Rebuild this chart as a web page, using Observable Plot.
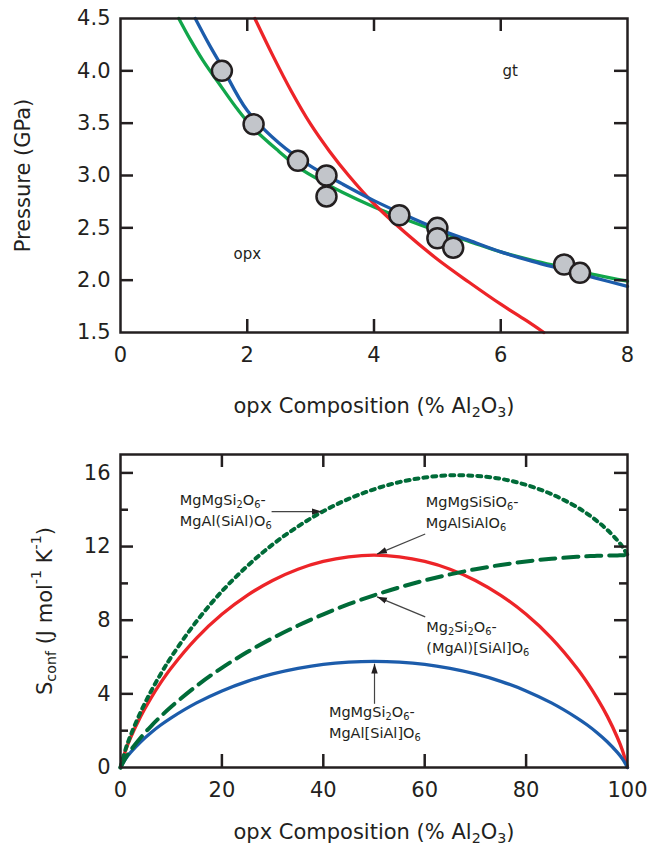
<!DOCTYPE html>
<html><head><meta charset="utf-8">
<script src="https://cdn.jsdelivr.net/npm/d3@7"></script>
<script src="https://cdn.jsdelivr.net/npm/@observablehq/plot@0.6"></script>
<style>
body{margin:0;background:#fff;}
#chart{width:658px;}
#chart svg{display:block;}
</style></head><body><div id="chart"></div>
<script>
// ---------- Top panel data ----------
const topXTicks = [0, 2, 4, 6, 8];
const topYTicks = [1.5, 2.0, 2.5, 3.0, 3.5, 4.0, 4.5];
const expAl = [1.6, 2.1, 2.8, 3.25, 3.25, 4.4, 5.0, 5.0, 5.25, 7.0, 7.25];
const expP  = [4.0, 3.49, 3.14, 3.0, 2.8, 2.62, 2.5, 2.4, 2.31, 2.15, 2.07];
const greenAl = [0.92, 1.1, 1.3, 1.6, 1.85, 2.1, 2.5, 2.8, 3.25, 3.5, 4.0, 4.5, 5.0, 5.5, 6.0, 6.5, 7.0, 7.5, 8.0];
const greenP  = [4.5, 4.3, 4.1, 3.84, 3.63, 3.45, 3.23, 3.08, 2.92, 2.84, 2.7, 2.58, 2.47, 2.37, 2.27, 2.19, 2.12, 2.05, 1.99];
const blueAl = [1.18, 1.4, 1.6, 2.0, 2.5, 3.0, 3.5, 4.0, 4.5, 5.0, 5.5, 6.0, 6.5, 7.0, 7.5, 8.0];
const blueP  = [4.5, 4.25, 4.04, 3.62, 3.31, 3.09, 2.92, 2.76, 2.62, 2.49, 2.38, 2.27, 2.18, 2.1, 2.02, 1.94];
const redAl = [2.12, 2.4, 2.7, 3.0, 3.3, 3.6, 4.0, 4.5, 5.0, 5.5, 6.0, 6.4, 6.68];
const redP  = [4.5, 4.15, 3.8, 3.49, 3.23, 3.0, 2.73, 2.45, 2.2, 1.98, 1.77, 1.615, 1.5];
const phaseText = ["gt", "opx"];
const phaseAl = [6.15, 2.0];
const phaseP = [4.0, 2.25];

// ---------- Bottom panel data ----------
const botXTicks = [0, 20, 40, 60, 80, 100];
const botYTicks = [0, 4, 8, 12, 16];
const botYMinor = [2, 6, 10, 14];
const compX = [0, 1, 2, 4, 6, 8, 10, 15, 20, 25, 30, 35, 40, 45, 50, 55, 60, 65, 70, 75, 80, 85, 90, 92, 94, 96, 98, 99, 100];
const sBlue = [0, 0.47, 0.82, 1.40, 1.89, 2.32, 2.70, 3.51, 4.16, 4.68, 5.08, 5.38, 5.60, 5.72, 5.76, 5.72, 5.60, 5.38, 5.08, 4.68, 4.16, 3.51, 2.70, 2.32, 1.89, 1.40, 0.82, 0.47, 0];
const sRed  = [0, 0.93, 1.63, 2.79, 3.77, 4.64, 5.41, 7.03, 8.32, 9.35, 10.16, 10.77, 11.19, 11.44, 11.53, 11.44, 11.19, 10.77, 10.16, 9.35, 8.32, 7.03, 5.41, 4.64, 3.77, 2.79, 1.63, 0.93, 0];
const sDash = [0, 0.52, 0.93, 1.63, 2.24, 2.79, 3.30, 4.43, 5.41, 6.27, 7.03, 7.71, 8.32, 8.87, 9.35, 9.78, 10.16, 10.49, 10.77, 11.00, 11.19, 11.34, 11.44, 11.47, 11.50, 11.51, 11.52, 11.53, 11.53];
const sDot  = [0, 0.99, 1.75, 3.03, 4.13, 5.11, 6.00, 7.94, 9.57, 10.94, 12.11, 13.09, 13.92, 14.59, 15.11, 15.50, 15.75, 15.87, 15.84, 15.68, 15.35, 14.85, 14.15, 13.79, 13.38, 12.91, 12.34, 11.99, 11.53];
const annoLine1 = ["MgMgSi_2O_6-", "MgMgSiSiO_6-", "Mg_2Si_2O_6-", "MgMgSi_2O_6-"];
const annoLine2 = ["MgAl(SiAl)O_6", "MgAlSiAlO_6", "(MgAl)[SiAl]O_6", "MgAl[SiAl]O_6"];
const annoX = [11.7, 60.2, 60.3, 41.1];
const annoY = [14.5, 14.41, 7.62, 3.01];
const arrowX1 = [29.8, 60.1, 60.1, 50.1];
const arrowY1 = [13.9, 12.68, 8.18, 3.46];
const arrowX2 = [39.7, 50.6, 50.6, 50.1];
const arrowY2 = [13.9, 11.59, 9.27, 5.64];

// ---------- styling ----------
const INK = "#231f20";
const GREEN = "#11a64b", BLUE = "#1c5cab", RED = "#ed2428", DKGREEN = "#006b38";
const FONT = "'DejaVu Sans', Lato, sans-serif";
const W = 658, ML = 120, MR = 31;
const FW = W - ML - MR;
const TL = 13, TLm = 8;
const LW = 3.3;

const rows = (xs, ys) => xs.map((x, i) => ({x, y: ys[i]}));

function filledArrow(color, context) {
  const m = d3.create("svg:marker")
    .attr("viewBox", "-6 -5 12 10")
    .attr("markerWidth", 11).attr("markerHeight", 9)
    .attr("markerUnits", "userSpaceOnUse")
    .attr("refX", 5).attr("refY", 0)
    .attr("orient", "auto");
  m.append("path").attr("d", "M-6,-3.6L5,0L-6,3.6Z").attr("fill", INK).attr("stroke", "none");
  return m.node();
}

function richify(svg) {
  svg.querySelectorAll("text").forEach(t => {
    const ts = t.querySelectorAll("tspan");
    const leaves = ts.length ? [...ts] : [t];
    for (const el of leaves) {
      const s = el.textContent;
      if (!/[_^]/.test(s)) continue;
      el.textContent = "";
      const add = (str) => {
        const sp = document.createElementNS("http://www.w3.org/2000/svg", "tspan");
        sp.textContent = str; el.appendChild(sp); return sp;
      };
      const re = /([_^])(?:\{([^}]*)\}|(.))/g;
      let last = 0, m;
      while ((m = re.exec(s))) {
        if (m.index > last) add(s.slice(last, m.index));
        const sp = add(m[2] ?? m[3]);
        sp.setAttribute("font-size", "68%");
        sp.setAttribute("baseline-shift", m[1] === "_" ? "-0.3em" : "0.8em");
        last = re.lastIndex;
      }
      if (last < s.length) add(s.slice(last));
    }
  });
}

// ---------- Top panel ----------
const H1 = 420, MT1 = 18, MB1 = 88, FH1 = H1 - MT1 - MB1;
const topPlot = Plot.plot({
  width: W, height: H1, marginLeft: ML, marginRight: MR, marginTop: MT1, marginBottom: MB1,
  style: {fontFamily: FONT, fontSize: "21px", color: INK, background: "#fff", overflow: "visible"},
  x: {domain: [0, 8], label: null},
  y: {domain: [1.5, 4.5], label: null},
  marks: [
    Plot.line(rows(greenAl, greenP), {x: "x", y: "y", stroke: GREEN, strokeWidth: LW, curve: "catmull-rom"}),
    Plot.line(rows(redAl, redP), {x: "x", y: "y", stroke: RED, strokeWidth: LW, curve: "catmull-rom"}),
    Plot.line(rows(blueAl, blueP), {x: "x", y: "y", stroke: BLUE, strokeWidth: LW, curve: "catmull-rom"}),
    Plot.dot(rows(expAl, expP), {x: "x", y: "y", r: 10, fill: "#c2c5ca", stroke: INK, strokeWidth: 2.5}),
    Plot.text(phaseText.map((t, i) => ({t, x: phaseAl[i], y: phaseP[i]})), {x: "x", y: "y", text: "t", fontSize: 15}),
    Plot.frame({stroke: INK, strokeWidth: 2.5}),
    Plot.tickX([2, 4, 6], {x: d => d, stroke: INK, strokeWidth: 2.5, insetTop: FH1 - TL}),
    Plot.tickX([2, 4, 6], {x: d => d, stroke: INK, strokeWidth: 2.5, insetBottom: FH1 - TL}),
    Plot.tickY([2.0, 2.5, 3.0, 3.5, 4.0], {y: d => d, stroke: INK, strokeWidth: 2.5, insetRight: FW - TL}),
    Plot.tickY([2.0, 2.5, 3.0, 3.5, 4.0], {y: d => d, stroke: INK, strokeWidth: 2.5, insetLeft: FW - TL}),
    Plot.axisX(topXTicks, {tickSize: 0, tickPadding: 15, fontSize: 21, label: null}),
    Plot.axisY(topYTicks, {tickSize: 0, tickPadding: 10, fontSize: 21, tickFormat: d3.format(".1f"), label: null}),
    Plot.text(["Pressure (GPa)"], {text: d => d, frameAnchor: "left", textAnchor: "middle", lineAnchor: "middle", rotate: -90, dx: -97, fontSize: 21}),
    Plot.text(["opx Composition (% Al_2O_3)"], {text: d => d, frameAnchor: "bottom", textAnchor: "middle", lineAnchor: "middle", dy: 74, fontSize: 21})
  ]
});

// ---------- Bottom panel ----------
const H2 = 426, MT2 = 34, MB2 = 79, FH2 = H2 - MT2 - MB2;
const annos = annoX.map((x, i) => ({x, y: annoY[i], l1: annoLine1[i], l2: annoLine2[i]}));
const arrows = arrowX1.map((x1, i) => ({x1, y1: arrowY1[i], x2: arrowX2[i], y2: arrowY2[i]}));
const botPlot = Plot.plot({
  width: W, height: H2, marginLeft: ML, marginRight: MR, marginTop: MT2, marginBottom: MB2,
  style: {fontFamily: FONT, fontSize: "21px", color: INK, background: "#fff", overflow: "visible"},
  x: {domain: [0, 100], label: null},
  y: {domain: [0, 17], label: null},
  marks: [
    Plot.line(rows(compX, sRed), {x: "x", y: "y", stroke: RED, strokeWidth: LW, curve: "catmull-rom"}),
    Plot.line(rows(compX, sBlue), {x: "x", y: "y", stroke: BLUE, strokeWidth: LW, curve: "catmull-rom"}),
    Plot.line(rows(compX, sDot), {x: "x", y: "y", stroke: DKGREEN, strokeWidth: 4, strokeDasharray: "4,5", curve: "catmull-rom"}),
    Plot.line(rows(compX, sDash), {x: "x", y: "y", stroke: DKGREEN, strokeWidth: 4, strokeDasharray: "15,8", curve: "catmull-rom"}),
    Plot.link(arrows, {x1: "x1", y1: "y1", x2: "x2", y2: "y2", stroke: "#444", strokeWidth: 1.2, markerEnd: filledArrow}),
    Plot.text(annos, {x: "x", y: "y", text: "l1", textAnchor: "start", fontSize: 14.5}),
    Plot.text(annos, {x: "x", y: "y", text: "l2", textAnchor: "start", fontSize: 14.5, dy: 21}),
    Plot.frame({stroke: INK, strokeWidth: 2.5}),
    Plot.tickX([20, 40, 60, 80], {x: d => d, stroke: INK, strokeWidth: 2.5, insetTop: FH2 - TL}),
    Plot.tickX([20, 40, 60, 80], {x: d => d, stroke: INK, strokeWidth: 2.5, insetBottom: FH2 - TL}),
    Plot.tickY([4, 8, 12, 16], {y: d => d, stroke: INK, strokeWidth: 2.5, insetRight: FW - TL}),
    Plot.tickY([4, 8, 12, 16], {y: d => d, stroke: INK, strokeWidth: 2.5, insetLeft: FW - TL}),
    Plot.tickY(botYMinor, {y: d => d, stroke: INK, strokeWidth: 2.5, insetRight: FW - TLm}),
    Plot.tickY(botYMinor, {y: d => d, stroke: INK, strokeWidth: 2.5, insetLeft: FW - TLm}),
    Plot.axisX(botXTicks, {tickSize: 0, tickPadding: 15, fontSize: 21, label: null}),
    Plot.axisY(botYTicks, {tickSize: 0, tickPadding: 10, fontSize: 21, label: null}),
    Plot.text(["S_{conf} (J mol^{-1} K^{-1})"], {text: d => d, frameAnchor: "left", textAnchor: "middle", lineAnchor: "middle", rotate: -90, dx: -75, fontSize: 21}),
    Plot.text(["opx Composition (% Al_2O_3)"], {text: d => d, frameAnchor: "bottom", textAnchor: "middle", lineAnchor: "middle", dy: 65, fontSize: 21})
  ]
});

richify(topPlot);
richify(botPlot);
const host = document.getElementById("chart");
host.appendChild(topPlot);
host.appendChild(botPlot);
</script></body></html>
